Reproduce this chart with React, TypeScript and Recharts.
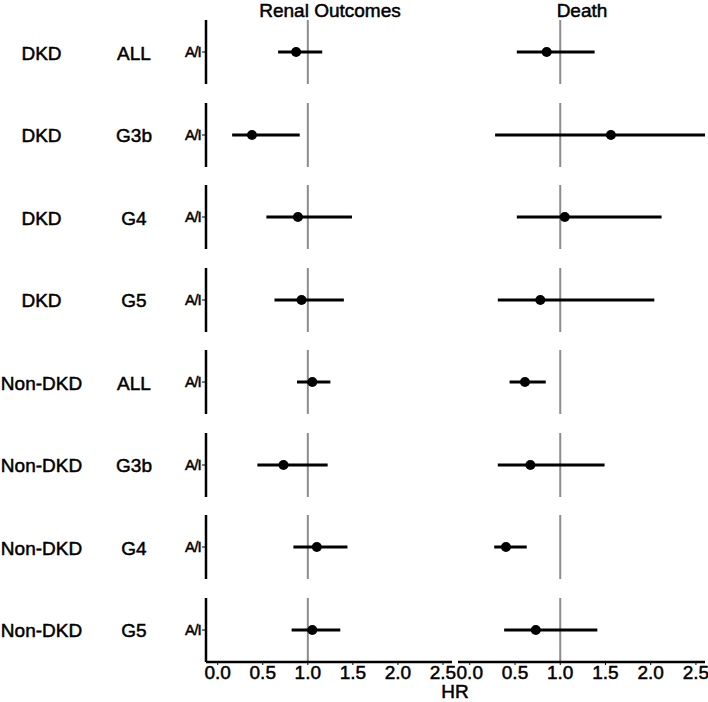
import React from 'react';
import { ErrorBar, ReferenceLine, Scatter, ScatterChart, XAxis, YAxis } from 'recharts';

// facet rows (top to bottom)
const groups = ['DKD', 'DKD', 'DKD', 'DKD', 'Non-DKD', 'Non-DKD', 'Non-DKD', 'Non-DKD'];
const stages = ['ALL', 'G3b', 'G4', 'G5', 'ALL', 'G3b', 'G4', 'G5'];
const treatment = 'A/I';

// hazard ratios with 95% CI
const renalHR = [0.87, 0.38, 0.89, 0.93, 1.05, 0.73, 1.1, 1.05];
const renalLo = [0.67, 0.16, 0.54, 0.63, 0.88, 0.44, 0.84, 0.82];
const renalHi = [1.16, 0.91, 1.49, 1.4, 1.25, 1.22, 1.44, 1.36];

const deathHR = [0.85, 1.56, 1.05, 0.78, 0.61, 0.67, 0.4, 0.73];
const deathLo = [0.52, 0.28, 0.52, 0.31, 0.44, 0.31, 0.27, 0.38];
const deathHi = [1.38, 3.2, 2.12, 2.04, 0.84, 1.49, 0.63, 1.41];

const panelTitles = ['Renal Outcomes', 'Death'];
const xTicks = [0, 0.5, 1, 1.5, 2, 2.5];
const xDomain: [number, number] = [-0.13, 2.6];

const FONT = '"Liberation Sans", Arial, Helvetica, sans-serif';
const ROW_TOP = 20;
const ROW_STEP = 82.5;
const PANEL_H = 64;
const AXIS_H = 40;
const LEFT_X = 146;
const Y_AXIS_W = 60; // left plot edge at 206
const LEFT_W = 452 - LEFT_X;
const RIGHT_X = 457.5;
const RIGHT_W = 247;
const TICK_PAD = 14; // room for the edge tick labels on the bottom row

// slight stroke to match the heavier text of the original
const textStyle = { fill: '#000', stroke: '#000', strokeWidth: 0.5, fontFamily: FONT };

const Dot = (props: any) => <circle cx={props.cx} cy={props.cy} r={5} fill="#000" />;

const XTick = (props: any) => (
  <text x={props.x} y={props.y} dy="0.71em" textAnchor="middle" fontSize={19} {...textStyle}>
    {Number(props.payload.value).toFixed(1)}
  </text>
);

const YTick = (props: any) => (
  <text
    x={props.x}
    y={props.y}
    dy="0.355em"
    textAnchor="end"
    fontSize={15}
    letterSpacing={-0.8}
    {...textStyle}
  >
    {treatment}
  </text>
);

interface PanelProps {
  hr: number;
  lo: number;
  hi: number;
  showY: boolean;
  showX: boolean;
  width: number;
}

const Panel: React.FC<PanelProps> = ({ hr, lo, hi, showY, showX, width }) => {
  const data = [{ x: hr, y: 1, err: [hr - lo, hi - hr] }];
  const pad = showX ? TICK_PAD : 0;
  return (
    <ScatterChart
      width={width + pad * 2}
      height={PANEL_H + (showX ? AXIS_H : 0)}
      margin={{ top: 0, right: pad, bottom: 0, left: pad }}
    >
      <XAxis
        type="number"
        dataKey="x"
        domain={xDomain}
        allowDataOverflow
        ticks={xTicks}
        interval={0}
        hide={!showX}
        height={AXIS_H}
        axisLine={{ stroke: '#000', strokeWidth: 2.5 }}
        tickLine={{ stroke: '#000', strokeWidth: 1 }}
        tickSize={3}
        tickMargin={1}
        tick={XTick}
      />
      <YAxis
        type="number"
        dataKey="y"
        domain={[0, 2]}
        ticks={[1]}
        hide={!showY}
        width={Y_AXIS_W}
        axisLine={{ stroke: '#000', strokeWidth: 2.5 }}
        tickLine={{ stroke: '#000', strokeWidth: 1 }}
        tickSize={4}
        tickMargin={1}
        tick={YTick}
      />
      <ReferenceLine x={1} stroke="#8c8c8c" strokeWidth={2} />
      <Scatter data={data} shape={Dot} isAnimationActive={false}>
        <ErrorBar
          dataKey="err"
          direction="x"
          width={0}
          stroke="#000"
          strokeWidth={3}
          isAnimationActive={false}
        />
      </Scatter>
    </ScatterChart>
  );
};

export default function App() {
  const last = groups.length - 1;
  return (
    <div
      style={{
        position: 'absolute',
        left: 0,
        top: 0,
        width: 708,
        height: 702,
        background: '#fff',
        fontFamily: FONT,
        overflow: 'hidden',
      }}
    >
      <svg width={708} height={702} style={{ position: 'absolute', left: 0, top: 0 }}>
        <text x={330} y={17} textAnchor="middle" fontSize={19} {...textStyle}>
          {panelTitles[0]}
        </text>
        <text x={582} y={17} textAnchor="middle" fontSize={19} {...textStyle}>
          {panelTitles[1]}
        </text>
        {groups.map((g, i) => {
          const cy = ROW_TOP + i * ROW_STEP + PANEL_H / 2;
          return (
            <g key={i}>
              <text x={41.5} y={cy + 7.5} textAnchor="middle" fontSize={19} {...textStyle}>
                {g}
              </text>
              <text x={134} y={cy + 7.5} textAnchor="middle" fontSize={19} {...textStyle}>
                {stages[i]}
              </text>
            </g>
          );
        })}
        <text x={455} y={698} textAnchor="middle" fontSize={19} {...textStyle}>
          HR
        </text>
      </svg>
      {groups.map((g, i) => {
        const top = ROW_TOP + i * ROW_STEP;
        const pad = i === last ? TICK_PAD : 0;
        return (
          <React.Fragment key={g + stages[i]}>
            <div style={{ position: 'absolute', left: LEFT_X - pad, top }}>
              <Panel
                hr={renalHR[i]}
                lo={renalLo[i]}
                hi={renalHi[i]}
                showY
                showX={i === last}
                width={LEFT_W}
              />
            </div>
            <div style={{ position: 'absolute', left: RIGHT_X - pad, top }}>
              <Panel
                hr={deathHR[i]}
                lo={deathLo[i]}
                hi={deathHi[i]}
                showY={false}
                showX={i === last}
                width={RIGHT_W}
              />
            </div>
          </React.Fragment>
        );
      })}
    </div>
  );
}
